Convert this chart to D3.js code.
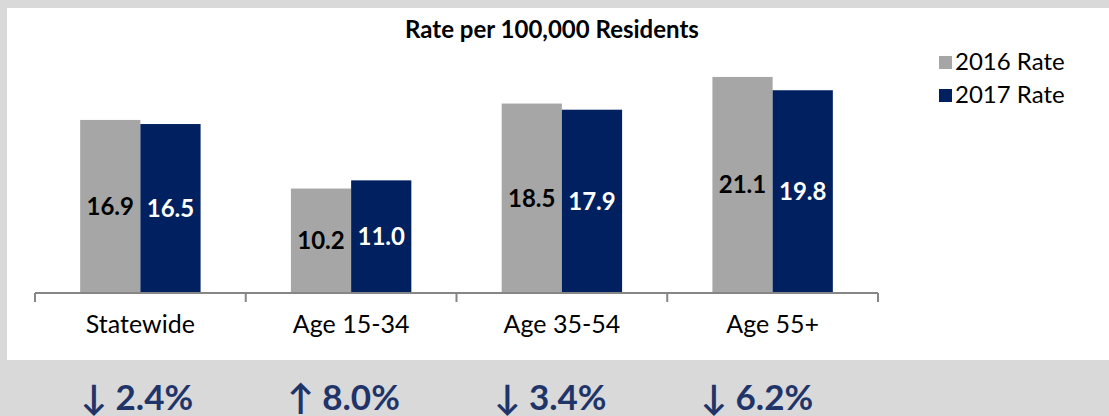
<!DOCTYPE html>
<html>
<head>
<meta charset="utf-8">
<script src="https://cdn.jsdelivr.net/npm/d3@7"></script>
<style>
  body { margin: 0; background: #d9d9d9; }
  svg { display: block; font-family: Lato, "Open Sans", sans-serif; }
</style>
</head>
<body>
<div id="chart"></div>
<script>
// Chart data
const categories = ["Statewide", "Age 15-34", "Age 35-54", "Age 55+"];
const seriesNames = ["2016 Rate", "2017 Rate"];
const rate2016 = [16.9, 10.2, 18.5, 21.1];
const rate2017 = [16.5, 11.0, 17.9, 19.8];
const changeArrows = ["\u2193", "\u2191", "\u2193", "\u2193"];
const changeValues = ["2.4%", "8.0%", "3.4%", "6.2%"];

const W = 1109, H = 416;
const colors = { "2016 Rate": "#a6a6a6", "2017 Rate": "#002060" };

const svg = d3.select("#chart")
    .append("svg")
    .attr("width", W)
    .attr("height", H);

// Background panels
svg.append("rect").attr("width", W).attr("height", H).attr("fill", "#d9d9d9");
svg.append("rect")
    .attr("x", 7).attr("y", 8)
    .attr("width", W - 7).attr("height", 352)
    .attr("fill", "#ffffff");

// Scales
const x0 = d3.scaleBand()
    .domain(categories)
    .range([35, 878]);

const x1 = d3.scaleBand()
    .domain(seriesNames)
    .range([0, x0.bandwidth()])
    .paddingInner(0)
    .paddingOuter(0.75);

const y = d3.scaleLinear()
    .domain([0, 25])
    .range([293, 37]);

// Title
svg.append("text")
    .attr("x", 552)
    .attr("y", 38)
    .attr("text-anchor", "middle")
    .style("font-size", "24px")
    .style("font-weight", "bold")
    .attr("fill", "#000")
    .text("Rate per 100,000 Residents");

// Bars
const rows = categories.map((c, i) => ({ cat: c, values: [
    { series: "2016 Rate", value: rate2016[i] },
    { series: "2017 Rate", value: rate2017[i] }
]}));

const groups = svg.selectAll(".bar-group")
    .data(rows)
    .enter()
    .append("g")
    .attr("transform", d => `translate(${x0(d.cat)},0)`);

groups.selectAll("rect")
    .data(d => d.values)
    .enter()
    .append("rect")
    .attr("x", d => x1(d.series))
    .attr("y", d => y(d.value))
    .attr("width", x1.bandwidth())
    .attr("height", d => y(0) - y(d.value))
    .attr("fill", d => colors[d.series]);

// Value labels in the middle of each bar
groups.selectAll(".val")
    .data(d => d.values)
    .enter()
    .append("text")
    .attr("x", d => x1(d.series) + x1.bandwidth() / 2)
    .attr("y", d => (y(d.value) + y(0)) / 2 - 1)
    .attr("text-anchor", "middle")
    .attr("dominant-baseline", "central")
    .style("font-size", "24px")
    .style("font-weight", "bold")
    .attr("fill", d => d.series === "2016 Rate" ? "#000" : "#fff")
    .text(d => d.value.toFixed(1));

// X axis
const axis = svg.append("g")
    .attr("transform", `translate(0,${y(0)})`)
    .call(d3.axisBottom(x0).tickSize(0).tickPadding(22));
axis.select(".domain").attr("stroke", "#868686").attr("stroke-width", 2)
    .attr("d", "M35,0H878");
axis.selectAll("text")
    .style("font-family", "Lato, sans-serif")
    .style("font-size", "25px")
    .attr("fill", "#000");

// Category separator ticks
const bounds = categories.map(c => x0(c)).concat([x0.range()[1]]);
svg.append("g").selectAll("line")
    .data(bounds)
    .enter()
    .append("line")
    .attr("x1", d => d).attr("x2", d => d)
    .attr("y1", y(0)).attr("y2", y(0) + 9)
    .attr("stroke", "#868686")
    .attr("stroke-width", 2);

// Legend
const legend = svg.append("g").attr("transform", "translate(939,56)");
seriesNames.forEach((s, i) => {
    legend.append("rect")
        .attr("x", 0).attr("y", i * 33)
        .attr("width", 13).attr("height", 13)
        .attr("fill", colors[s]);
    legend.append("text")
        .attr("x", 16).attr("y", i * 33 + 14)
        .style("font-size", "24px")
        .attr("fill", "#000")
        .text(s);
});

// Percent change row
const xc = d3.scalePoint().domain(categories).range([137, 757]);
svg.append("g").selectAll("text")
    .data(categories)
    .enter()
    .append("text")
    .attr("x", d => xc(d))
    .attr("y", 410)
    .attr("text-anchor", "middle")
    .style("font-size", "35px")
    .style("font-weight", "bold")
    .attr("fill", "#1f3468")
    .text((d, i) => changeArrows[i] + " " + changeValues[i]);
</script>
</body>
</html>
